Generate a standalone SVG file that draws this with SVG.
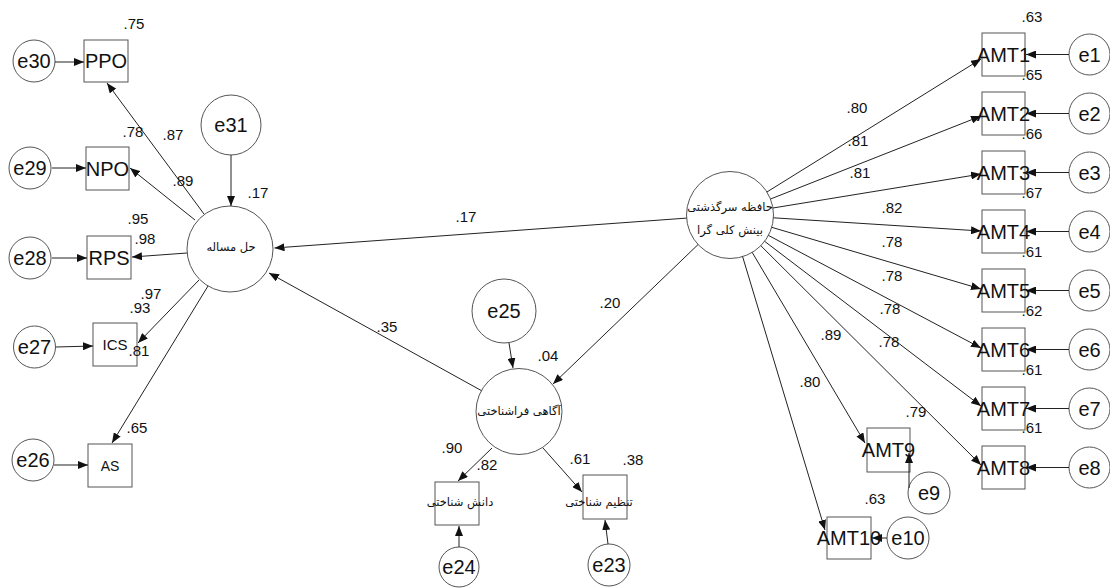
<svg xmlns="http://www.w3.org/2000/svg" width="1110" height="588" viewBox="0 0 1110 588">
<defs>
<marker id="ah" markerWidth="10" markerHeight="8" refX="10" refY="4" orient="auto" markerUnits="userSpaceOnUse">
<path d="M0,0 L10,4 L0,8 z" fill="#111"/>
</marker>
<style>
.sh{fill:#fff;stroke:#555;stroke-width:1}
.ln{stroke:#222;stroke-width:1;fill:none;marker-end:url(#ah)}
.lb{font-family:"Liberation Sans",Arial,sans-serif;font-size:20px;fill:#111;text-anchor:middle}
.sm{font-family:"Liberation Sans",Arial,sans-serif;font-size:15px;fill:#111;text-anchor:middle}
.ar{font-family:"DejaVu Sans",sans-serif;font-size:11.5px;fill:#111;text-anchor:middle;direction:rtl}
</style>
</defs>
<rect width="1110" height="588" fill="#fff"/>

<g id="e30"><circle class="sh" cx="34" cy="61" r="21"/><text class="lb" x="34" y="68">e30</text></g>
<g id="PPO"><rect class="sh" x="84" y="40" width="44" height="42"/><text class="lb" x="106" y="68">PPO</text></g>
<g id="e29"><circle class="sh" cx="30" cy="168" r="21"/><text class="lb" x="30" y="175">e29</text></g>
<g id="NPO"><rect class="sh" x="86" y="147" width="43" height="43"/><text class="lb" x="107.5" y="175.5">NPO</text></g>
<g id="e28"><circle class="sh" cx="30" cy="258" r="21"/><text class="lb" x="30" y="265">e28</text></g>
<g id="RPS"><rect class="sh" x="87" y="236" width="44" height="43"/><text class="lb" x="109" y="264.5">RPS</text></g>
<g id="e27"><circle class="sh" cx="34.5" cy="347" r="21"/><text class="lb" x="34.5" y="354">e27</text></g>
<g id="ICS"><rect class="sh" x="93" y="323" width="44" height="43"/><text class="lb" x="115" y="350" style="font-size:15px">ICS</text></g>
<g id="e26"><circle class="sh" cx="33" cy="460" r="21"/><text class="lb" x="33" y="467">e26</text></g>
<g id="AS"><rect class="sh" x="88" y="444" width="44" height="43"/><text class="lb" x="110" y="471" style="font-size:14px">AS</text></g>
<g id="e31"><circle class="sh" cx="231" cy="125" r="30"/><text class="lb" x="231" y="132">e31</text></g>
<g id="hal"><circle class="sh" cx="230" cy="249" r="43"/><text class="ar" x="231" y="251">حل مساله</text></g>
<g id="hafeze"><circle class="sh" cx="730" cy="215" r="43.5"/><text class="ar" x="730" y="211">حافظه سرگذشتی</text><text class="ar" x="730" y="234">بینش کلی گرا</text></g>
<g id="e25"><circle class="sh" cx="504" cy="311" r="32"/><text class="lb" x="504" y="318">e25</text></g>
<g id="agahi"><circle class="sh" cx="519" cy="411.5" r="43"/><text class="ar" x="519" y="415">آگاهی فراشناختی</text></g>
<g id="danesh"><rect class="sh" x="435" y="482" width="44" height="43"/><text class="ar" x="460" y="506">دانش شناختی</text></g>
<g id="tanzim"><rect class="sh" x="583" y="475" width="44" height="44"/><text class="ar" x="599" y="506">تنظیم شناختی</text></g>
<g id="e24"><circle class="sh" cx="459" cy="567" r="20"/><text class="lb" x="459" y="574">e24</text></g>
<g id="e23"><circle class="sh" cx="609" cy="565" r="21"/><text class="lb" x="609" y="572">e23</text></g>

<g id="AMT1"><rect class="sh" x="982" y="33" width="43" height="43"/><text class="lb" x="1003.5" y="61.5">AMT1</text></g>
<g id="AMT2"><rect class="sh" x="982" y="92" width="43" height="43"/><text class="lb" x="1003.5" y="120.5">AMT2</text></g>
<g id="AMT3"><rect class="sh" x="982" y="151" width="43" height="43"/><text class="lb" x="1003.5" y="179.5">AMT3</text></g>
<g id="AMT4"><rect class="sh" x="982" y="210" width="43" height="43"/><text class="lb" x="1003.5" y="238.5">AMT4</text></g>
<g id="AMT5"><rect class="sh" x="982" y="269" width="43" height="43"/><text class="lb" x="1003.5" y="297.5">AMT5</text></g>
<g id="AMT6"><rect class="sh" x="982" y="328" width="43" height="43"/><text class="lb" x="1003.5" y="356.5">AMT6</text></g>
<g id="AMT7"><rect class="sh" x="982" y="387" width="43" height="43"/><text class="lb" x="1003.5" y="415.5">AMT7</text></g>
<g id="AMT8"><rect class="sh" x="982" y="446" width="43" height="43"/><text class="lb" x="1003.5" y="474.5">AMT8</text></g>
<g id="AMT9"><rect class="sh" x="867" y="428" width="43" height="44"/><text class="lb" x="888.5" y="457">AMT9</text></g>
<g id="AMT10"><rect class="sh" x="827" y="517" width="44" height="42"/><text class="lb" x="849" y="545">AMT10</text></g>
<g id="e1"><circle class="sh" cx="1089.5" cy="54.5" r="20.5"/><text class="lb" x="1089.5" y="61.5">e1</text></g>
<g id="e2"><circle class="sh" cx="1089.5" cy="113.5" r="20.5"/><text class="lb" x="1089.5" y="120.5">e2</text></g>
<g id="e3"><circle class="sh" cx="1089.5" cy="172.5" r="20.5"/><text class="lb" x="1089.5" y="179.5">e3</text></g>
<g id="e4"><circle class="sh" cx="1089.5" cy="231.5" r="20.5"/><text class="lb" x="1089.5" y="238.5">e4</text></g>
<g id="e5"><circle class="sh" cx="1089.5" cy="290.5" r="20.5"/><text class="lb" x="1089.5" y="297.5">e5</text></g>
<g id="e6"><circle class="sh" cx="1089.5" cy="349.5" r="20.5"/><text class="lb" x="1089.5" y="356.5">e6</text></g>
<g id="e7"><circle class="sh" cx="1089.5" cy="408.5" r="20.5"/><text class="lb" x="1089.5" y="415.5">e7</text></g>
<g id="e8"><circle class="sh" cx="1089.5" cy="467.5" r="20.5"/><text class="lb" x="1089.5" y="474.5">e8</text></g>
<g id="e9"><circle class="sh" cx="929" cy="493" r="21"/><text class="lb" x="929" y="500">e9</text></g>
<g id="e10"><circle class="sh" cx="908" cy="538" r="21"/><text class="lb" x="908" y="545">e10</text></g>

<g id="connectors">
<line class="ln" x1="55" y1="62" x2="84" y2="62"/>
<line class="ln" x1="52" y1="168" x2="86" y2="168"/>
<line class="ln" x1="52" y1="258" x2="87" y2="258"/>
<line class="ln" x1="56" y1="347" x2="93" y2="346"/>
<line class="ln" x1="54" y1="465" x2="88" y2="465"/>
<line class="ln" x1="204" y1="214" x2="107" y2="83"/>
<line class="ln" x1="195" y1="220" x2="130" y2="168"/>
<line class="ln" x1="187" y1="253" x2="132" y2="257"/>
<line class="ln" x1="199" y1="280" x2="138" y2="343"/>
<line class="ln" x1="208" y1="286" x2="112" y2="443"/>
<line class="ln" x1="231" y1="155" x2="231" y2="206"/>
<line class="ln" x1="686.6" y1="218.1" x2="274.5" y2="248"/>
<line class="ln" x1="481.4" y1="390.6" x2="269" y2="273"/>
<line class="ln" x1="698" y1="244.6" x2="553" y2="384"/>
<line class="ln" x1="509" y1="343" x2="513" y2="368"/>
<line class="ln" x1="492" y1="448" x2="458" y2="481"/>
<line class="ln" x1="543" y1="448" x2="582" y2="492"/>
<line class="ln" x1="459" y1="547" x2="459" y2="526"/>
<line class="ln" x1="608" y1="544" x2="605" y2="520"/>
<line class="ln" x1="766.9" y1="192" x2="981" y2="59"/>
<line class="ln" x1="770.5" y1="199" x2="981" y2="116"/>
<line class="ln" x1="772.9" y1="208" x2="981" y2="174"/>
<line class="ln" x1="773.4" y1="217.8" x2="981" y2="231"/>
<line class="ln" x1="771.7" y1="227.3" x2="981" y2="289"/>
<line class="ln" x1="768.4" y1="235.4" x2="981" y2="348"/>
<line class="ln" x1="764.6" y1="241.3" x2="981" y2="406"/>
<line class="ln" x1="760.8" y1="245.7" x2="981" y2="465"/>
<line class="ln" x1="752.2" y1="252.4" x2="865" y2="443"/>
<line class="ln" x1="742.6" y1="256.6" x2="825" y2="530"/>
<line class="ln" x1="1069" y1="54.5" x2="1026" y2="54.5"/>
<line class="ln" x1="1069" y1="113.5" x2="1026" y2="113.5"/>
<line class="ln" x1="1069" y1="172.5" x2="1026" y2="172.5"/>
<line class="ln" x1="1069" y1="231.5" x2="1026" y2="231.5"/>
<line class="ln" x1="1069" y1="290.5" x2="1026" y2="290.5"/>
<line class="ln" x1="1069" y1="349.5" x2="1026" y2="349.5"/>
<line class="ln" x1="1069" y1="408.5" x2="1026" y2="408.5"/>
<line class="ln" x1="1069" y1="467.5" x2="1026" y2="467.5"/>
<line class="ln" x1="909" y1="488" x2="909" y2="453"/>
<line class="ln" x1="887" y1="538" x2="872" y2="538"/>
</g>

<g id="labels">
<text class="sm" x="134" y="29">.75</text>
<text class="sm" x="133" y="137">.78</text>
<text class="sm" x="173" y="140">.87</text>
<text class="sm" x="183" y="186">.89</text>
<text class="sm" x="258" y="198">.17</text>
<text class="sm" x="138" y="224">.95</text>
<text class="sm" x="145" y="244">.98</text>
<text class="sm" x="151" y="299">.97</text>
<text class="sm" x="140" y="313">.93</text>
<text class="sm" x="139" y="356">.81</text>
<text class="sm" x="137" y="433">.65</text>
<text class="sm" x="466" y="222">.17</text>
<text class="sm" x="387" y="332">.35</text>
<text class="sm" x="610" y="308">.20</text>
<text class="sm" x="548" y="361">.04</text>
<text class="sm" x="452" y="453">.90</text>
<text class="sm" x="487" y="470">.82</text>
<text class="sm" x="580" y="464">.61</text>
<text class="sm" x="633" y="465">.38</text>
<text class="sm" x="857" y="113">.80</text>
<text class="sm" x="858" y="146">.81</text>
<text class="sm" x="860" y="178">.81</text>
<text class="sm" x="892" y="213">.82</text>
<text class="sm" x="892" y="247">.78</text>
<text class="sm" x="892" y="281">.78</text>
<text class="sm" x="890" y="314">.78</text>
<text class="sm" x="889" y="347">.78</text>
<text class="sm" x="831" y="340">.89</text>
<text class="sm" x="810" y="387">.80</text>
<text class="sm" x="916" y="417">.79</text>
<text class="sm" x="875" y="504">.63</text>
<text class="sm" x="1032" y="22">.63</text>
<text class="sm" x="1032" y="80">.65</text>
<text class="sm" x="1032" y="139">.66</text>
<text class="sm" x="1032" y="198">.67</text>
<text class="sm" x="1032" y="257">.61</text>
<text class="sm" x="1032" y="316">.62</text>
<text class="sm" x="1032" y="375">.61</text>
<text class="sm" x="1032" y="433">.61</text>
</g>
</svg>
